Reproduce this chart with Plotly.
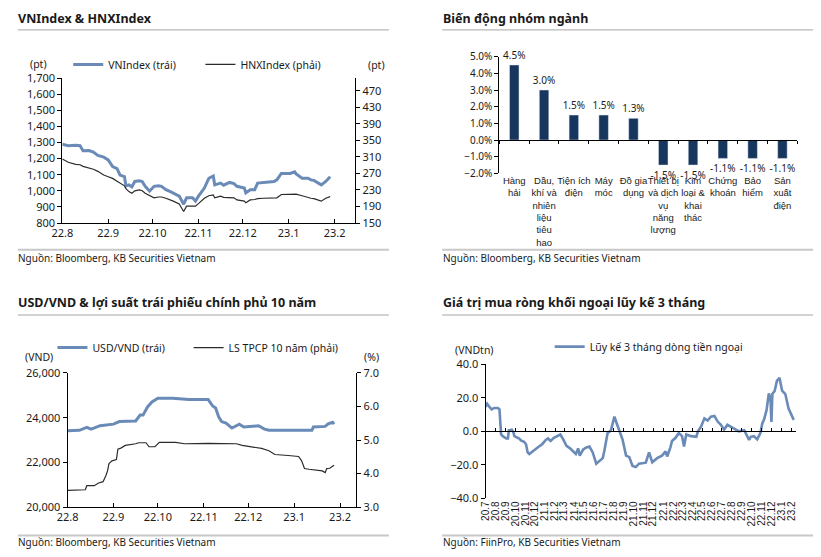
import plotly.graph_objects as go

W, H = 821, 557
def X(px): return px / W
def Y(py): return 1 - py / H

FONT = "Noto Sans"
TXT = "#1a1a1a"
BLUE = "#6A8BB7"
DARK = "#2b2b2b"
NAVY = "#17365D"
AX = "#000000"

# ---------------- Panel 1: VNIndex & HNXIndex ----------------
idx_dates = [
    "2022-08-01", "2022-08-05", "2022-08-10", "2022-08-13", "2022-08-15", "2022-08-19", "2022-08-22", "2022-08-25", "2022-08-29",
    "2022-09-01", "2022-09-04", "2022-09-07", "2022-09-09", "2022-09-12", "2022-09-13", "2022-09-15", "2022-09-17", "2022-09-19",
    "2022-09-22", "2022-09-24", "2022-09-26", "2022-09-29",
    "2022-10-02", "2022-10-05", "2022-10-07", "2022-10-10", "2022-10-13", "2022-10-15", "2022-10-19", "2022-10-22", "2022-10-24",
    "2022-10-28", "2022-10-30",
    "2022-11-01", "2022-11-05", "2022-11-08", "2022-11-11", "2022-11-12", "2022-11-16", "2022-11-18", "2022-11-22", "2022-11-25",
    "2022-11-27",
    "2022-12-02", "2022-12-03", "2022-12-06", "2022-12-09", "2022-12-11", "2022-12-15", "2022-12-22", "2022-12-24", "2022-12-27",
    "2023-01-02", "2023-01-05", "2023-01-06", "2023-01-10", "2023-01-14", "2023-01-16", "2023-01-18", "2023-01-23", "2023-01-26",
    "2023-01-29",
]
vnindex = [
    1289, 1280, 1283, 1280, 1249, 1250, 1240, 1220, 1209,
    1192, 1150, 1138, 1098, 1088, 1030, 1037, 1025, 1058, 1062, 1058, 1028, 998,
    1028, 1032, 1028, 1007, 995, 987, 967, 917, 957, 957, 937,
    967, 1017, 1078, 1092, 1037, 1048, 1035, 1052, 1045, 1028,
    1017, 987, 1007, 1007, 1048, 1052, 1058, 1068, 1108,
    1108, 1118, 1105, 1078, 1078, 1068, 1065, 1037, 1058, 1088,
]
hnxindex = [
    305, 297, 292, 291, 287, 283, 280, 275, 266,
    262, 258, 251, 246, 240, 233, 226, 222, 228, 230, 228, 222, 216,
    211, 213, 213, 210, 206, 203, 196, 178, 191, 192, 191,
    197, 210, 216, 218, 211, 215, 212, 212, 211, 206,
    203, 199, 206, 207, 209, 210, 210, 211, 219,
    220, 221, 220, 216, 211, 210, 209, 203, 210, 214,
]
month_labels_1 = ["22.8", "22.9", "22.10", "22.11", "22.12", "23.1", "23.2"]

# ---------------- Panel 2: sector moves ----------------
sectors = [
    "Hàng<br>hải",
    "Dầu,<br>khí và<br>nhiên<br>liệu<br>tiêu<br>hao",
    "Tiện ích<br>điện",
    "Máy<br>móc",
    "Đồ gia<br>dụng",
    "Thiết bị<br>và dịch<br>vụ<br>năng<br>lượng",
    "Kim<br>loại &<br>khai<br>thác",
    "Chứng<br>khoán",
    "Bảo<br>hiểm",
    "Sản<br>xuất<br>điện",
]
sector_change = [4.5, 3.0, 1.5, 1.5, 1.3, -1.5, -1.5, -1.1, -1.1, -1.1]

# ---------------- Panel 3: USD/VND & 10Y yield ----------------
usd_dates = [
    "2022-08-01", "2022-08-09", "2022-08-14", "2022-08-17", "2022-08-23", "2022-09-01", "2022-09-05", "2022-09-16",
    "2022-09-19", "2022-09-21", "2022-09-24", "2022-09-27", "2022-10-01", "2022-10-11", "2022-10-22", "2022-11-04",
    "2022-11-07", "2022-11-09", "2022-11-11", "2022-11-13", "2022-11-16", "2022-11-20", "2022-11-25", "2022-11-28",
    "2022-12-08", "2022-12-12", "2022-12-15", "2023-01-13", "2023-01-14", "2023-01-18", "2023-01-22", "2023-01-24",
    "2023-01-27", "2023-01-28",
]
usd_vnd = [
    23420, 23435, 23565, 23490, 23640, 23710, 23825, 23855,
    24115, 24115, 24480, 24700, 24870, 24870, 24810, 24810,
    24520, 24435, 24045, 23825, 23755, 23535, 23710, 23580,
    23640, 23490, 23435, 23435, 23580, 23580, 23610, 23725,
    23795, 23710,
]
yield_dates = [
    "2022-08-01", "2022-08-13", "2022-08-14", "2022-08-19", "2022-08-22", "2022-08-25", "2022-08-27", "2022-08-28",
    "2022-08-29", "2022-08-31", "2022-09-03", "2022-09-04", "2022-09-06", "2022-09-09", "2022-09-16", "2022-09-18",
    "2022-09-23", "2022-09-25", "2022-09-29", "2022-10-02", "2022-10-13", "2022-10-19", "2022-11-04", "2022-11-23",
    "2022-11-27", "2022-12-04", "2022-12-10", "2022-12-15", "2022-12-19", "2022-12-28", "2023-01-04", "2023-01-06",
    "2023-01-08", "2023-01-11", "2023-01-20", "2023-01-22", "2023-01-23", "2023-01-25", "2023-01-28",
]
gov_yield_10y = [
    3.50, 3.52, 3.64, 3.64, 3.72, 3.76, 3.95, 4.08,
    4.30, 4.38, 4.42, 4.73, 4.76, 4.84, 4.89, 4.92,
    4.92, 4.80, 4.80, 4.93, 4.93, 4.89, 4.90, 4.89,
    4.84, 4.78, 4.75, 4.68, 4.57, 4.54, 4.51, 4.39,
    4.15, 4.13, 4.08, 4.03, 4.15, 4.16, 4.25,
]
month_labels_3 = ["22.8", "22.9", "22.10", "22.11", "22.12", "23.1", "23.2"]

# ---------------- Panel 4: foreign net buying, 3M rolling ----------------
flow_dates = [
    "2020-07-01", "2020-07-06", "2020-07-13", "2020-07-20", "2020-07-28", "2020-08-08", "2020-08-13", "2020-08-16",
    "2020-08-18", "2020-08-23", "2020-09-03", "2020-09-08", "2020-09-11", "2020-09-20", "2020-09-25", "2020-09-28",
    "2020-10-13", "2020-10-18", "2020-10-28", "2020-11-03", "2020-11-08", "2020-11-13", "2020-11-23", "2020-12-03",
    "2020-12-13", "2020-12-23", "2021-01-03", "2021-01-10", "2021-01-18", "2021-01-28", "2021-02-08", "2021-02-17",
    "2021-02-26", "2021-03-08", "2021-03-18", "2021-03-28", "2021-04-06", "2021-04-13", "2021-04-18", "2021-04-28",
    "2021-05-08", "2021-05-18", "2021-05-28", "2021-06-08", "2021-06-18", "2021-06-28", "2021-07-03", "2021-07-13",
    "2021-07-23", "2021-07-28", "2021-08-03", "2021-08-10", "2021-08-18", "2021-08-28", "2021-09-08", "2021-09-18",
    "2021-09-28", "2021-10-08", "2021-10-18", "2021-11-08", "2021-11-18", "2021-11-28", "2021-12-13", "2021-12-28",
    "2022-01-08", "2022-01-13", "2022-01-23", "2022-01-28", "2022-02-08", "2022-02-18", "2022-02-28", "2022-03-06",
    "2022-03-13", "2022-03-28", "2022-04-13", "2022-04-18", "2022-04-28", "2022-05-08", "2022-05-18", "2022-05-28",
    "2022-06-08", "2022-06-18", "2022-06-28", "2022-07-08", "2022-07-18", "2022-07-28", "2022-08-13", "2022-08-23",
    "2022-09-08", "2022-09-18", "2022-09-23", "2022-09-28", "2022-10-08", "2022-10-18", "2022-10-23", "2022-10-28",
    "2022-11-03", "2022-11-08", "2022-11-16", "2022-11-23", "2022-11-28", "2022-12-01", "2022-12-04", "2022-12-11",
    "2022-12-18", "2022-12-26", "2023-01-03", "2023-01-13", "2023-01-23", "2023-02-03", "2023-02-08",
]
foreign_flow_3m = [
    14.5, 16.4, 14.5, 13.1, 13.9, 13.9, 13.0, 6.8,
    -1.9, -2.9, -4.3, -4.3, 0.6, 1.0, -0.6, -2.9,
    -4.3, -5.4, -6.2, -7.7, -12.6, -13.5, -12.2, -10.6,
    -9.1, -7.7, -5.2, -4.3, -5.8, -3.9, -2.9, -1.9,
    -4.8, -8.7, -10.0, -11.6, -13.5, -10.2, -14.5, -11.0,
    -9.6, -9.1, -12.6, -19.3, -17.4, -16.0, -11.6, -1.0,
    0.4, 3.9, 8.7, 4.8, 0.0, -4.8, -14.5, -15.4,
    -20.7, -21.3, -19.3, -18.7, -12.6, -18.4, -16.0, -14.5,
    -12.0, -15.0, -9.6, -5.8, -3.9, -1.0, -2.9, -9.1,
    -1.9, -2.9, -3.3, 0.0, 2.9, 7.7, 6.4, 8.7,
    9.1, 5.8, 3.9, 1.0, 3.9, 2.9, 1.0, 0.0,
    0.6, -2.9, -5.2, -3.3, -2.9, -4.8, -2.9, -1.0,
    4.8, 6.8, 12.6, 22.5, 20.0, 5.5, 22.2, 24.0,
    30.0, 31.9, 24.2, 22.2, 13.5, 8.7, 6.8,
]
month_labels_4 = (
    ["20.7", "20.8", "20.9", "20.10", "20.11", "20.12"]
    + ["21.%d" % m for m in range(1, 13)]
    + ["22.%d" % m for m in range(1, 13)]
    + ["23.1", "23.2"]
)


def label_to_date(lbl):
    yy, mm = lbl.split(".")
    return "20%s-%02d-01" % (yy, int(mm))


tick_font = dict(family=FONT, size=11, color=TXT)
base_axis = dict(showgrid=False, zeroline=False, showline=True, linecolor=AX, linewidth=1,
                 tickcolor=AX, tickwidth=1, tickfont=tick_font)

fig = go.Figure()

# Panel 1 traces
fig.add_trace(go.Scatter(x=idx_dates, y=vnindex, name="VNIndex (trái)", mode="lines",
                         line=dict(color=BLUE, width=3), xaxis="x", yaxis="y", legend="legend"))
fig.add_trace(go.Scatter(x=idx_dates, y=hnxindex, name="HNXIndex (phải)", mode="lines",
                         line=dict(color=DARK, width=1.2), xaxis="x", yaxis="y2", legend="legend4"))

# Panel 2 traces
fig.add_trace(go.Bar(x=sectors, y=sector_change, xaxis="x3", yaxis="y3", marker_color=NAVY,
                     width=0.32, texttemplate="%{y:.1f}%", textposition="outside",
                     constraintext="none", cliponaxis=False,
                     textfont=dict(family=FONT, size=10, color=TXT), showlegend=False))
fig.add_trace(go.Scatter(x=[None], y=[None], xaxis="x4", yaxis="y3", showlegend=False, hoverinfo="skip"))

# Panel 3 traces
fig.add_trace(go.Scatter(x=usd_dates, y=usd_vnd, name="USD/VND (trái)", mode="lines",
                         line=dict(color=BLUE, width=3), xaxis="x5", yaxis="y5", legend="legend2"))
fig.add_trace(go.Scatter(x=yield_dates, y=gov_yield_10y, name="LS TPCP 10 năm (phải)", mode="lines",
                         line=dict(color=DARK, width=1.2), xaxis="x5", yaxis="y6", legend="legend5"))

# Panel 4 traces
fig.add_trace(go.Scatter(x=flow_dates, y=foreign_flow_3m, name="Lũy kế 3 tháng dòng tiền ngoại", mode="lines",
                         line=dict(color=BLUE, width=2.6), xaxis="x7", yaxis="y7", legend="legend3"))
fig.add_trace(go.Scatter(x=[None], y=[None], xaxis="x8", yaxis="y7", showlegend=False, hoverinfo="skip"))

# ---- axes ----
p1_ticks = [label_to_date(l) for l in month_labels_1]
fig.update_layout(
    xaxis=dict(base_axis, domain=[X(52), X(349)], anchor="y", type="date",
               range=["2022-08-01", "2023-02-15"], tickvals=p1_ticks, ticktext=month_labels_1,
               ticks="inside", ticklen=4),
    yaxis=dict(base_axis, domain=[Y(221), Y(72)], anchor="x", range=[800, 1700], dtick=100,
               tickformat=",", ticks="outside", ticklen=4),
    yaxis2=dict(base_axis, overlaying="y", side="right", anchor="x", range=[150, 500.6],
                tick0=150, dtick=40, ticks="outside", ticklen=4),
)

y3_lo, y3_hi = -2, 5
pos_zero_3 = Y(170) + (0 - y3_lo) / (y3_hi - y3_lo) * (Y(50) - Y(170))
fig.update_layout(
    xaxis3=dict(domain=[X(495), X(797)], anchor="y3", type="category", range=[-0.5, len(sectors) - 0.5],
                showline=False, showgrid=False, zeroline=False, ticks="", tickangle=0,
                tickfont=dict(family="Liberation Sans", size=9.5, color=TXT)),
    yaxis3=dict(base_axis, domain=[Y(170), Y(50)], anchor="x3", range=[y3_lo, y3_hi], dtick=1,
                tickformat=".1f", ticksuffix="%", ticks="outside", ticklen=4,
                tickfont=dict(family=FONT, size=10, color=TXT)),
    xaxis4=dict(base_axis, overlaying="x3", anchor="free", position=pos_zero_3, type="linear",
                range=[-0.5, len(sectors) - 0.5], tickvals=[i - 0.5 for i in range(len(sectors) + 1)],
                showticklabels=False, ticks="outside", ticklen=3),
)

p3_ticks = [label_to_date(l) for l in month_labels_3]
fig.update_layout(
    xaxis5=dict(base_axis, domain=[X(57.3), X(350)], anchor="y5", type="date",
                range=["2022-08-01", "2023-02-12"], tickvals=p3_ticks, ticktext=month_labels_3,
                ticks="inside", ticklen=4),
    yaxis5=dict(base_axis, domain=[Y(513), Y(375)], anchor="x5", range=[20000, 26000], dtick=2000,
                tickformat=",", ticks="outside", ticklen=4),
    yaxis6=dict(base_axis, overlaying="y5", side="right", anchor="x5", range=[3, 7], dtick=1,
                tickformat=".1f", ticks="outside", ticklen=4),
)

p4_ticks = [label_to_date(l) for l in month_labels_4]
y7_lo, y7_hi = -40, 40
pos_zero_7 = Y(504) + (0 - y7_lo) / (y7_hi - y7_lo) * (Y(366) - Y(504))
fig.update_layout(
    xaxis7=dict(domain=[X(481), X(796)], anchor="y7", type="date", range=["2020-07-01", "2023-02-16"],
                tickvals=p4_ticks, ticktext=month_labels_4, tickangle=-90, showline=False,
                showgrid=False, zeroline=False, ticks="",
                tickfont=dict(family="Liberation Sans", size=10, color=TXT)),
    yaxis7=dict(base_axis, domain=[Y(504), Y(366)], anchor="x7", range=[y7_lo, y7_hi], dtick=20,
                tickformat=".1f", ticks="outside", ticklen=4),
    xaxis8=dict(base_axis, overlaying="x7", anchor="free", position=pos_zero_7, type="date",
                range=["2020-07-01", "2023-02-16"], tickvals=p4_ticks, showticklabels=False,
                ticks="inside", ticklen=3),
)

# ---- legends (one per entry for exact placement) ----
leg_font = dict(family=FONT, size=10.5, color=TXT)
leg_common = dict(orientation="h", xanchor="left", yanchor="middle", font=leg_font,
                  bgcolor="rgba(0,0,0,0)", borderwidth=0, itemwidth=30)
fig.update_layout(
    legend=dict(leg_common, x=X(58), y=Y(58)),
    legend4=dict(leg_common, x=X(192), y=Y(58)),
    legend2=dict(leg_common, x=X(42), y=Y(349)),
    legend5=dict(leg_common, x=X(180), y=Y(349)),
    legend3=dict(leg_common, x=X(546), y=Y(348)),
)

# ---- titles, units, sources ----
annotations = []
shapes = []

def title(text, x, y):
    annotations.append(dict(text="<b>%s</b>" % text, x=X(x), y=Y(y), xref="paper", yref="paper",
                            xanchor="left", yanchor="middle", showarrow=False,
                            font=dict(family=FONT, size=12.5, color=TXT)))

def source(text, x, y):
    annotations.append(dict(text=text, x=X(x), y=Y(y), xref="paper", yref="paper",
                            xanchor="left", yanchor="middle", showarrow=False,
                            font=dict(family=FONT, size=10, color=TXT)))

def unit(text, x, y):
    annotations.append(dict(text=text, x=X(x), y=Y(y), xref="paper", yref="paper",
                            xanchor="center", yanchor="middle", showarrow=False,
                            font=dict(family=FONT, size=10.5, color=TXT)))

def hline(x0, x1, y, color, width):
    shapes.append(dict(type="line", xref="paper", yref="paper", x0=X(x0), x1=X(x1), y0=Y(y), y1=Y(y),
                       line=dict(color=color, width=width)))

title("VNIndex & HNXIndex", 5, 11)
title("Biến động nhóm ngành", 436, 11)
title("USD/VND & lợi suất trái phiếu chính phủ 10 năm", 5, 303)
title("Giá trị mua ròng khối ngoại lũy kế 3 tháng", 436, 303)

for x0, x1 in [(7, 383), (437, 813)]:
    hline(x0, x1, 22.5, "#A6A6A6", 1)
    hline(x0, x1, 248.5, "#C8C8C8", 2)
for x0, x1 in [(7, 383), (437, 813)]:
    hline(x0, x1, 315.5, "#A6A6A6", 1)
    hline(x0, x1, 542, "#C8C8C8", 2)

source("Nguồn: Bloomberg, KB Securities Vietnam", 5, 257)
source("Nguồn: Bloomberg, KB Securities Vietnam", 436, 257)
source("Nguồn: Bloomberg, KB Securities Vietnam", 5, 549)
source("Nguồn: FiinPro, KB Securities Vietnam", 436, 549)

unit("(pt)", 28, 58)
unit("(pt)", 370, 59)
unit("(VND)", 28, 359)
unit("(%)", 365, 359)
unit("(VNDtn)", 470, 351)

fig.update_layout(
    width=W, height=H, margin=dict(l=0, r=0, t=0, b=0),
    paper_bgcolor="white", plot_bgcolor="rgba(0,0,0,0)",
    annotations=annotations, shapes=shapes,
    font=dict(family=FONT, color=TXT),
    bargap=0.68,
)

fig.write_html("out.html")
